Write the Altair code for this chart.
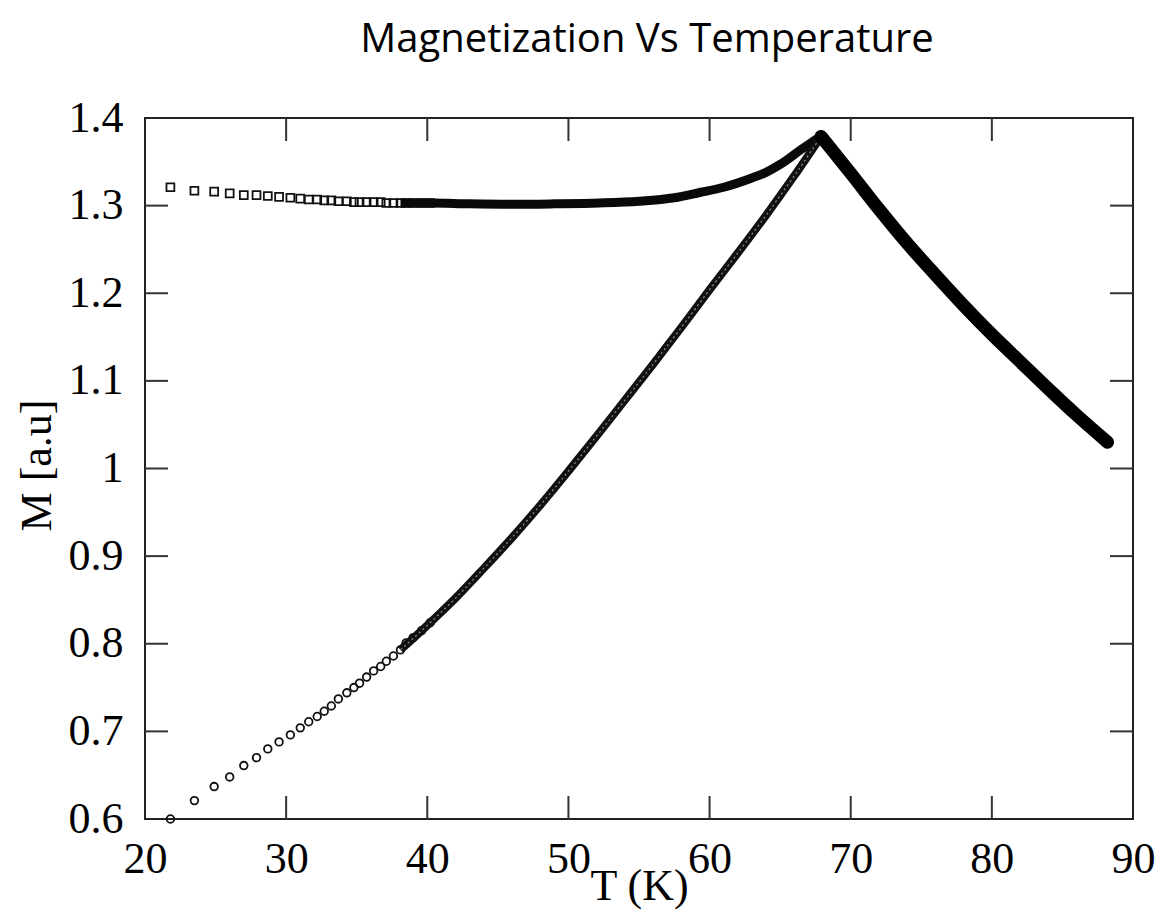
import altair as alt
import pandas as pd

# ---------------- data ----------------
# Low-temperature grid where individual markers are visible (K)
T_low = [21.8, 23.5, 24.9, 26.0, 27.0, 27.9, 28.7, 29.5, 30.3, 31.0, 31.6, 32.2, 32.7,
         33.2, 33.7, 34.3, 34.8, 35.2, 35.7, 36.2, 36.7, 37.1, 37.6, 38.1, 38.5, 39.0,
         39.6, 40.2]
# Field-cooled branch (squares)
FC_low = [1.321, 1.317, 1.316, 1.314, 1.312, 1.312, 1.311, 1.310, 1.309, 1.308, 1.307,
          1.307, 1.306, 1.306, 1.305, 1.305, 1.304, 1.304, 1.304, 1.304, 1.304, 1.303,
          1.303, 1.303, 1.303, 1.303, 1.303, 1.303]
# Zero-field-cooled branch (circles)
ZFC_low = [0.600, 0.621, 0.637, 0.648, 0.661, 0.670, 0.680, 0.688, 0.696, 0.704, 0.711,
           0.717, 0.723, 0.729, 0.737, 0.744, 0.750, 0.755, 0.762, 0.769, 0.774, 0.780,
           0.786, 0.793, 0.801, 0.807, 0.815, 0.824]

# Dense (overlapping markers) part of the FC branch
FC_hi_T = [38.1, 40.2, 43.0, 46.0, 49.0, 52.2, 55.0, 57.5, 59.3, 61.0, 62.9, 64.0, 65.0,
           66.4, 67.3, 67.9]
FC_hi_M = [1.303, 1.303, 1.302, 1.3015, 1.302, 1.303, 1.305, 1.309, 1.315, 1.321, 1.331,
           1.338, 1.347, 1.363, 1.373, 1.379]

# Dense part of the ZFC branch
ZFC_hi_T = [38.1, 40.2, 42.0, 44.0, 46.0, 48.0, 50.0, 52.0, 54.0, 56.0, 58.0, 60.0, 62.0,
            64.0, 66.0, 67.9]
ZFC_hi_M = [0.793, 0.824, 0.852, 0.886, 0.921, 0.958, 0.997, 1.037, 1.078, 1.119, 1.161,
            1.204, 1.246, 1.289, 1.334, 1.379]

# Common branch above the peak
POST_T = [67.9, 70.0, 72.0, 74.0, 76.0, 78.0, 80.0, 82.0, 84.0, 86.0, 88.2]
POST_M = [1.379, 1.337, 1.296, 1.257, 1.221, 1.186, 1.153, 1.122, 1.091, 1.061, 1.030]

# Axis ticks / labels
X_LABELS = [20, 30, 40, 50, 60, 70, 80, 90]
Y_LABELS = [0.6, 0.7, 0.8, 0.9, 1.0, 1.1, 1.2, 1.3, 1.4]
X_TICKS = [30, 40, 50, 60, 70, 80]
Y_TICKS = [0.7, 0.8, 0.9, 1.0, 1.1, 1.2, 1.3]

TITLE = "Magnetization Vs Temperature"
X_TITLE = "T (K)"
Y_TITLE = "M [a.u]"

# ---------------- chart ----------------
W, H = 988, 701
SERIF = "Liberation Serif"
TICK_LEN = 23

xs = alt.Scale(domain=[20, 90], nice=False, zero=False)
ys = alt.Scale(domain=[0.6, 1.4], nice=False, zero=False)

xaxis = alt.Axis(values=X_LABELS, format="d", title=X_TITLE, grid=False, ticks=False,
                 domain=False, tickSize=0, labelFont=SERIF, labelFontSize=44,
                 labelColor="black", labelBaseline="alphabetic", labelPadding=53,
                 labelFlush=False, labelOverlap=False, titleFont=SERIF, titleFontSize=44,
                 titleFontWeight="normal", titleColor="black", titleBaseline="alphabetic",
                 titleY=80, titleX=W / 2)
yaxis = alt.Axis(values=Y_LABELS, format="~g", title=Y_TITLE, grid=False, ticks=False,
                 domain=False, tickSize=0, labelFont=SERIF, labelFontSize=44,
                 labelColor="black", labelPadding=22, labelFlush=False, labelOverlap=False,
                 titleFont=SERIF, titleFontSize=44, titleFontWeight="normal",
                 titleColor="black", titleAngle=270, titleBaseline="alphabetic",
                 titleAlign="center", titleX=-95, titleY=347)

def X():
    return alt.X("T:Q", scale=xs, axis=xaxis)

def Y():
    return alt.Y("M:Q", scale=ys, axis=yaxis)

df_fc_low = pd.DataFrame({"T": T_low, "M": FC_low})
df_zfc_low = pd.DataFrame({"T": T_low, "M": ZFC_low})
df_fc_hi = pd.DataFrame({"T": FC_hi_T, "M": FC_hi_M})
df_zfc_hi = pd.DataFrame({"T": ZFC_hi_T, "M": ZFC_hi_M})
df_post = pd.DataFrame({"T": POST_T, "M": POST_M})
df_xt = pd.DataFrame({"T": X_TICKS})
df_yt = pd.DataFrame({"M": Y_TICKS})

squares = alt.Chart(df_fc_low).mark_point(shape="square", filled=False, size=62,
                                           stroke="#111", strokeWidth=1.8, opacity=1).encode(x=X(), y=Y())
circles = alt.Chart(df_zfc_low).mark_point(shape="circle", filled=False, size=58,
                                            stroke="#111", strokeWidth=1.8, opacity=1).encode(x=X(), y=Y())

fc_line = alt.Chart(df_fc_hi).mark_line(color="#0a0a0a", strokeWidth=9, interpolate="monotone",
                                         strokeCap="butt", strokeJoin="round").encode(x=X(), y=Y())
zfc_line = alt.Chart(df_zfc_hi).mark_line(color="#111", strokeWidth=8, interpolate="monotone",
                                           strokeCap="butt", strokeJoin="round").encode(x=X(), y=Y())
zfc_inner = alt.Chart(df_zfc_hi).mark_line(color="#8a8a8a", strokeWidth=1.3, interpolate="monotone",
                                            strokeDash=[2, 3]).encode(x=X(), y=Y())
post_line = alt.Chart(df_post).mark_line(color="#000", strokeWidth=13, interpolate="monotone",
                                          strokeCap="round", strokeJoin="round").encode(x=X(), y=Y())

rule_style = dict(color="#333", strokeWidth=2)
tick_bottom = alt.Chart(df_xt).mark_rule(**rule_style).encode(
    x=X(), y=alt.value(H), y2=alt.value(H - TICK_LEN))
tick_top = alt.Chart(df_xt).mark_rule(**rule_style).encode(
    x=X(), y=alt.value(0), y2=alt.value(TICK_LEN))
tick_left = alt.Chart(df_yt).mark_rule(**rule_style).encode(
    y=Y(), x=alt.value(0), x2=alt.value(TICK_LEN))
tick_right = alt.Chart(df_yt).mark_rule(**rule_style).encode(
    y=Y(), x=alt.value(W), x2=alt.value(W - TICK_LEN))

chart = alt.layer(
    tick_bottom, tick_top, tick_left, tick_right,
    squares, circles, fc_line, zfc_line, zfc_inner, post_line,
).properties(
    width=W, height=H,
    title=alt.TitleParams(TITLE, font="Open Sans", fontSize=40, fontWeight="normal",
                          color="black", anchor="middle", frame="group",
                          baseline="alphabetic", offset=4, dx=8),
    autosize=alt.AutoSizeParams(type="none"),
    padding={"left": 137, "top": 110, "right": 22, "bottom": 93},
).configure_view(stroke="#222", strokeWidth=2)

chart.save("out.html", embed_options={"renderer": "svg", "actions": False})
